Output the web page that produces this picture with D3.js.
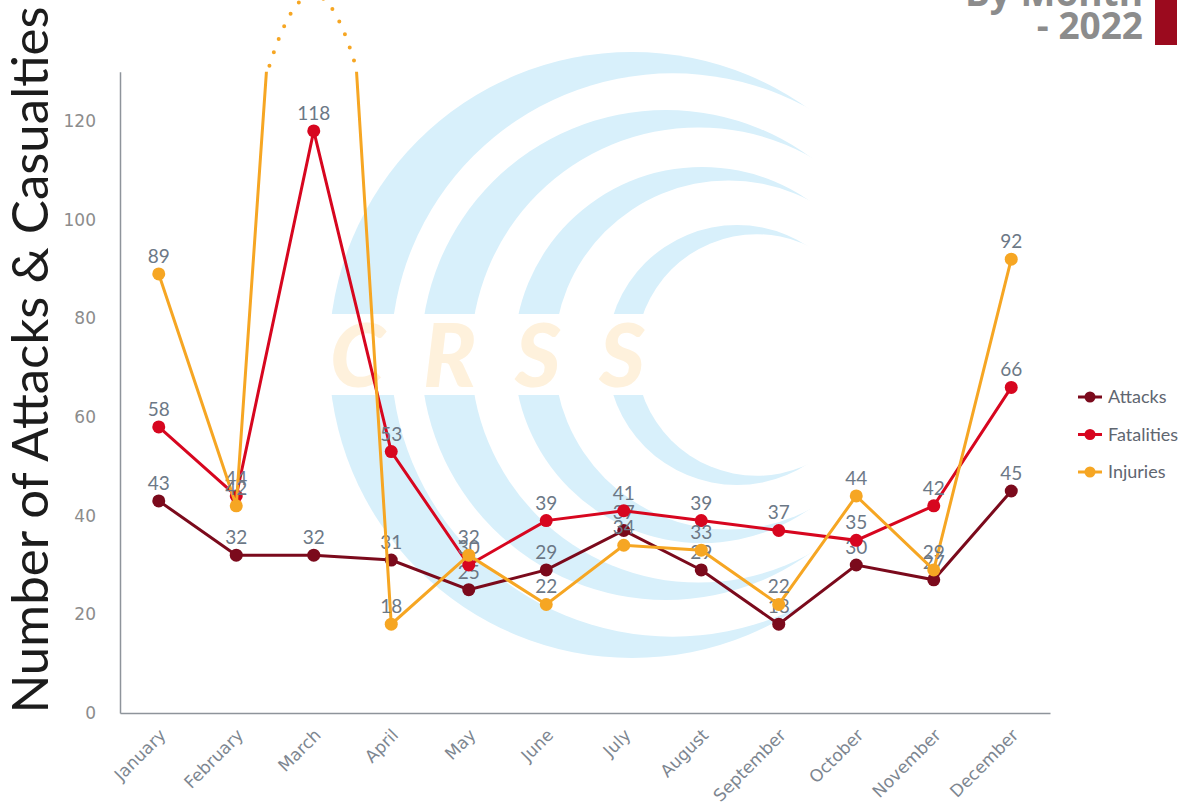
<!DOCTYPE html>
<html>
<head>
<meta charset="utf-8">
<script src="https://cdn.jsdelivr.net/npm/d3@7"></script>
<style>
  body { margin: 0; background: #fff; }
  svg { display: block; }
</style>
</head>
<body>
<div id="chart"></div>
<script>
// chart data
var months = ["January", "February", "March", "April", "May", "June",
              "July", "August", "September", "October", "November", "December"];
var attacks    = [43, 32, 32, 31, 25, 29, 37, 29, 18, 30, 27, 45];
var fatalities = [58, 44, 118, 53, 30, 39, 41, 39, 37, 35, 42, 66];
// March injuries run off the top of the chart (broken axis), value estimated
var injuries   = [89, 42, 268, 18, 32, 22, 34, 33, 22, 44, 29, 92];
var yTicks = [0, 20, 40, 60, 80, 100, 120];
var seriesNames = ["Attacks", "Fatalities", "Injuries"];
var seriesColors = ["#7b0a1c", "#d7061f", "#f6a623"];

var svgWidth = 1195;
var svgHeight = 804;
var yMax = 130;       // top of the axis
var breakPeak = 160;  // control height of the dotted "break" arc

var svg = d3.select("#chart").append("svg")
    .attr("width", svgWidth)
    .attr("height", svgHeight);

// scales
var xScale = d3.scaleBand().domain(months).range([120, 1050]);
var xc = d => xScale(d) + xScale.bandwidth() / 2;
var yScale = d3.scaleLinear().domain([0, yMax]).range([713, 71.7]);

// ---- watermark (CRSS logo) ----
var wm = svg.append("g");
var rings = [
  {ox: 632, r: 303, ix: 672.7, ir: 281.7},
  {ox: 666, r: 245, ix: 698.6, ir: 227.6},
  {ox: 702, r: 188, ix: 728.5, ir: 174.5},
  {ox: 737, r: 130, ix: 756.8, ir: 120.8}
];
rings.forEach(function(c) {
  wm.append("circle").attr("cx", c.ox).attr("cy", 355).attr("r", c.r).attr("fill", "#d8f0fb");
  wm.append("circle").attr("cx", c.ix).attr("cy", 355).attr("r", c.ir).attr("fill", "#fff");
});
wm.append("rect").attr("x", 300).attr("y", 314).attr("width", 420).attr("height", 81).attr("fill", "#fff");
wm.append("text")
    .attr("x", 330).attr("y", 387)
    .attr("textLength", 315)
    .attr("lengthAdjust", "spacing")
    .style("font-family", "Lato, 'Open Sans', sans-serif")
    .style("font-size", "88px")
    .style("font-style", "italic")
    .style("font-weight", "900")
    .attr("fill", "#fef1dc")
    .text("CRSS");

// ---- axes ----
var yAxis = svg.append("g")
    .attr("transform", "translate(120,0)")
    .call(d3.axisLeft(yScale).tickValues(yTicks).tickSize(0).tickPadding(24));
yAxis.select(".domain").attr("stroke", "#8e949b").attr("stroke-width", 1.5);
yAxis.selectAll("text")
    .style("font-family", "'DejaVu Sans', Verdana, sans-serif")
    .style("font-size", "17px")
    .attr("fill", "#8c8c8c");

var xAxis = svg.append("g")
    .attr("transform", "translate(0,713)")
    .call(d3.axisBottom(xScale).tickSize(0));
xAxis.select(".domain").attr("stroke", "#8e949b").attr("stroke-width", 1.5);
xAxis.selectAll("text")
    .attr("x", 0).attr("y", 0).attr("dy", "0.35em")
    .attr("text-anchor", "end")
    .attr("transform", "translate(4,19) rotate(-45)")
    .style("font-family", "'DejaVu Sans', Verdana, sans-serif")
    .style("font-size", "17px")
    .attr("fill", "#7d8690");

// y axis title
svg.append("text")
    .attr("transform", "translate(48,360) rotate(-90)")
    .attr("text-anchor", "middle")
    .style("font-family", "Lato, sans-serif")
    .style("font-size", "51px")
    .attr("fill", "#1c1c1c")
    .text("Number of Attacks & Casualties");

// ---- series ----
svg.append("clipPath").attr("id", "plotClip")
  .append("rect").attr("x", 100).attr("y", yScale(yMax)).attr("width", 1000).attr("height", 700);

var allSeries = [attacks, fatalities, injuries];
var line = d3.line().x((d, i) => xc(months[i])).y(d => yScale(d));

allSeries.forEach(function(values, s) {
  var color = seriesColors[s];
  var g = svg.append("g").attr("clip-path", "url(#plotClip)");
  g.append("path")
      .datum(values)
      .attr("d", line)
      .attr("fill", "none")
      .attr("stroke", color)
      .attr("stroke-width", 3);
  g.selectAll("circle")
      .data(values)
      .enter()
      .append("circle")
      .attr("cx", (d, i) => xc(months[i]))
      .attr("cy", d => yScale(d))
      .attr("r", 6.5)
      .attr("fill", color);
  svg.append("g").selectAll("text")
      .data(values.map((v, i) => ({v: v, m: months[i]})).filter(d => d.v <= yMax))
      .enter()
      .append("text")
      .attr("x", d => xc(d.m))
      .attr("y", d => yScale(d.v) - 11)
      .attr("text-anchor", "middle")
      .style("font-family", "Lato, sans-serif")
      .style("font-size", "19px")
      .attr("fill", "#6c7886")
      .text(d => d.v);
});

// dotted arc marking the off-scale March injuries value
var brk = injuries.map((v, i) => ({v: v, i: i})).filter(d => d.v > yMax);
brk.forEach(function(d) {
  var prev = injuries[d.i - 1], next = injuries[d.i + 1];
  var x0 = xc(months[d.i - 1]), x1 = xc(months[d.i]), x2 = xc(months[d.i + 1]);
  var xl = x0 + (x1 - x0) * (yMax - prev) / (d.v - prev);
  var xr = x2 - (x2 - x1) * (yMax - next) / (d.v - next);
  var p = d3.path();
  p.moveTo(xl + 3, yScale(yMax) - 6);
  p.quadraticCurveTo(x1, yScale(breakPeak), xr - 1, yScale(yMax) - 6);
  svg.append("path")
      .attr("d", p.toString())
      .attr("fill", "none")
      .attr("stroke", seriesColors[2])
      .attr("stroke-width", 4)
      .attr("stroke-linecap", "round")
      .attr("stroke-dasharray", "0 14");
});

// ---- legend ----
var legend = svg.append("g").selectAll("g")
    .data(seriesNames)
    .enter()
    .append("g")
    .attr("transform", (d, i) => `translate(1078, ${397 + i * 37.5})`);
legend.append("line")
    .attr("x1", 0).attr("x2", 24)
    .attr("stroke", (d, i) => seriesColors[i])
    .attr("stroke-width", 3);
legend.append("circle")
    .attr("cx", 12).attr("r", 5.5)
    .attr("fill", (d, i) => seriesColors[i]);
legend.append("text")
    .attr("x", 30).attr("dy", "0.35em")
    .style("font-family", "Lato, sans-serif")
    .style("font-size", "18px")
    .attr("fill", "#5f6670")
    .text(d => d);

// ---- title (cut off at top) ----
svg.append("text")
    .attr("x", 1143).attr("y", 6)
    .attr("text-anchor", "end")
    .style("font-family", "'Open Sans', sans-serif")
    .style("font-weight", "700")
    .style("font-size", "37px")
    .attr("fill", "#8c8c8c")
    .text("By Month");
svg.append("text")
    .attr("x", 1143).attr("y", 39)
    .attr("text-anchor", "end")
    .style("font-family", "'Open Sans', sans-serif")
    .style("font-weight", "700")
    .style("font-size", "37px")
    .attr("fill", "#8c8c8c")
    .text("- 2022");
svg.append("rect")
    .attr("x", 1155).attr("y", 0)
    .attr("width", 22).attr("height", 45)
    .attr("fill", "#9b0a1e");
</script>
</body>
</html>
